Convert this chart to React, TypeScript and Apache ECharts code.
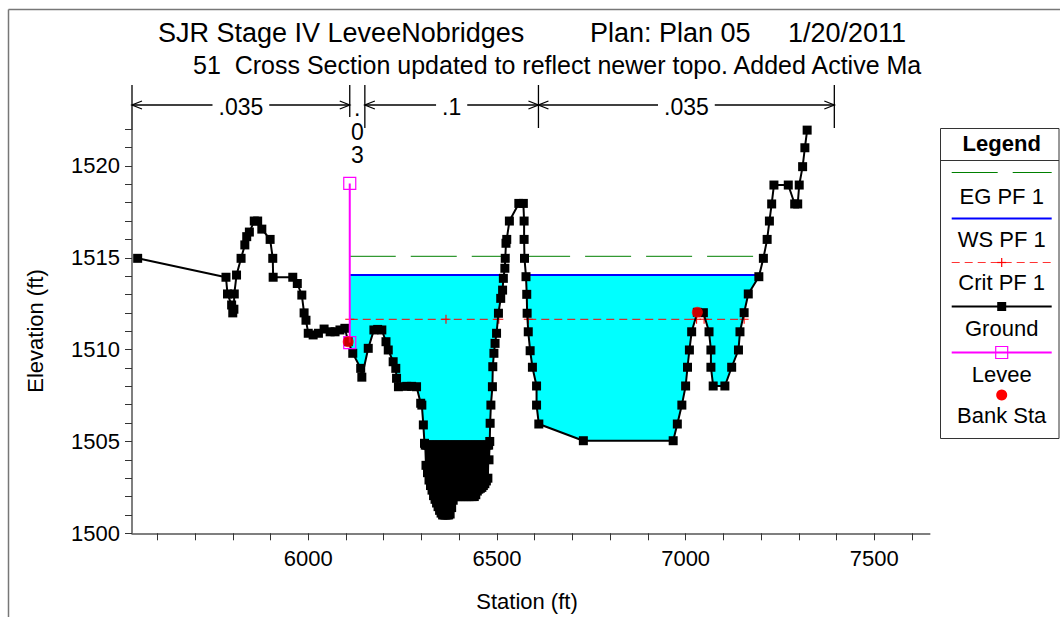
import React, { useEffect, useRef } from "react";
import * as echarts from "echarts";

const FONT = "'Liberation Sans', Arial, Helvetica, sans-serif";

// ---------- text ----------
const titleParts = ["SJR Stage IV LeveeNobridges", "Plan: Plan 05", "1/20/2011"];
const subtitleText = "51  Cross Section updated to reflect newer topo. Added Active Ma";
const xAxisName = "Station (ft)";
const yAxisName = "Elevation (ft)";
const legendTitle = "Legend";
const legendLabels = ["EG PF 1", "WS PF 1", "Crit PF 1", "Ground", "Levee", "Bank Sta"];

// ---------- axes ----------
const xMin = 5533;
const xMax = 7647;
const yMin = 1500;
const yMax = 1522;
const xTickValues = [5600, 5700, 5800, 5900, 6000, 6100, 6200, 6300, 6400, 6500, 6600, 6700, 6800, 6900, 7000, 7100, 7200, 7300, 7400, 7500, 7600];
const xLabelValues = [6000, 6500, 7000, 7500];
const yLabelValues = [1500, 1505, 1510, 1515, 1520];

// ---------- ground (station, elevation) ----------
const groundPoints: [number, number][] = [
  [5548, 1514.97], [5782, 1513.94], [5786, 1513.03], [5797, 1512.43], [5800, 1512.0], [5803, 1512.2],
  [5804, 1513.03], [5810, 1514.06], [5822, 1514.97], [5832, 1515.7], [5837, 1516.15], [5844, 1516.4],
  [5857, 1517.0], [5866, 1517.0], [5877, 1516.56], [5899, 1516.0], [5906, 1514.97], [5907, 1513.94],
  [5959, 1513.94], [5971, 1513.6], [5983, 1512.97], [5989, 1512.0], [5994, 1511.6], [6000, 1510.89],
  [6013, 1510.8], [6027, 1510.89], [6042, 1511.12], [6058, 1510.97], [6071, 1510.97], [6084, 1511.07],
  [6097, 1511.16], [6106, 1510.43], [6118, 1509.8], [6139, 1508.98], [6142, 1508.5], [6159, 1510.07],
  [6174, 1511.07], [6184, 1511.1], [6195, 1511.07], [6206, 1510.43], [6212, 1509.98], [6225, 1509.34],
  [6232, 1508.98], [6234, 1508.44], [6239, 1507.98], [6261, 1508.0], [6274, 1508.0], [6287, 1507.98],
  [6298, 1507.08], [6301, 1506.98], [6305, 1505.9], [6308, 1504.9],
  [6310, 1504.8], [6312, 1503.7], [6314, 1504.8], [6316, 1503.3], [6318, 1504.8], [6320, 1502.9],
  [6322, 1504.8], [6324, 1502.6], [6326, 1504.8], [6328, 1502.35], [6330, 1504.8], [6332, 1502.05],
  [6334, 1504.8], [6336, 1501.85], [6338, 1504.8], [6340, 1501.65], [6342, 1504.8], [6344, 1501.45],
  [6346, 1504.8], [6348, 1501.25], [6350, 1504.8], [6352, 1501.1], [6354, 1504.8], [6356, 1501.0],
  [6358, 1504.8], [6360, 1501.0], [6362, 1504.8], [6364, 1501.0], [6366, 1504.8], [6368, 1501.0],
  [6370, 1504.8], [6372, 1501.0], [6374, 1504.8], [6376, 1501.05], [6378, 1504.8], [6380, 1501.4],
  [6382, 1504.8], [6384, 1501.8], [6386, 1504.8], [6388, 1502.0], [6390, 1504.8], [6392, 1502.0],
  [6394, 1504.8], [6396, 1502.0], [6398, 1504.8], [6400, 1502.0], [6402, 1504.8], [6404, 1502.0],
  [6406, 1504.8], [6408, 1502.0], [6410, 1504.8], [6412, 1502.0], [6414, 1504.8], [6416, 1502.0],
  [6418, 1504.8], [6420, 1502.0], [6422, 1504.8], [6424, 1502.0], [6426, 1504.8], [6428, 1502.0],
  [6430, 1504.8], [6432, 1502.0], [6434, 1504.8], [6436, 1502.0], [6438, 1504.8], [6440, 1502.0],
  [6442, 1504.8], [6444, 1502.1], [6446, 1504.8], [6448, 1502.3], [6450, 1504.8], [6452, 1502.4],
  [6454, 1504.8], [6456, 1502.45], [6458, 1504.8], [6460, 1502.5], [6462, 1504.8], [6464, 1502.6],
  [6466, 1504.8], [6468, 1502.7], [6470, 1504.8], [6472, 1502.85], [6474, 1504.8], [6476, 1503.0],
  [6478, 1504.8], [6479, 1504.0], [6481, 1505.0],
  [6482, 1505.99], [6484, 1506.98], [6488, 1507.98], [6489, 1509.07], [6492, 1509.8], [6495, 1510.34],
  [6499, 1510.89], [6504, 1511.98], [6510, 1512.79], [6515, 1513.24], [6517, 1513.88], [6521, 1514.43],
  [6522, 1514.97], [6524, 1515.79], [6526, 1516.0], [6533, 1517.0], [6558, 1517.96], [6570, 1517.96],
  [6572, 1517.0], [6572, 1516.0], [6573, 1514.97], [6577, 1513.97], [6579, 1513.01], [6580, 1511.98],
  [6583, 1510.97], [6588, 1509.94], [6594, 1509.04], [6605, 1508.02], [6605, 1506.98], [6611, 1505.95],
  [6729, 1505.04], [6967, 1505.04], [6978, 1505.95], [6990, 1506.98], [7000, 1508.02], [7005, 1509.04],
  [7010, 1509.98], [7016, 1510.97], [7031, 1512.03], [7047, 1512.01], [7062, 1510.97], [7067, 1509.98],
  [7067, 1509.04], [7073, 1508.02], [7104, 1508.02], [7122, 1509.04], [7140, 1509.98], [7144, 1510.97],
  [7155, 1512.01], [7166, 1513.03], [7194, 1513.97], [7206, 1514.97], [7216, 1516.0], [7222, 1517.0],
  [7228, 1517.93], [7234, 1518.96], [7272, 1518.96], [7289, 1517.93], [7297, 1517.93], [7301, 1518.96],
  [7310, 1519.96], [7316, 1520.99], [7322, 1521.95],
];

// ---------- profiles ----------
const wsElevation = 1514.06;
const wsStations: (number | null)[] = [6110, 6518, null, 6577, 7194];
const egElevation = 1515.08;
const egStations: (number | null)[] = [6110, 6522, null, 6572, 7194];
const critElevation = 1511.65;
const critStations: (number | null)[] = [6110, 6365, 6505, null, 6583, 7029, null, 7049, 7155];
const wetStart = 6110;
const leveePoints: [number, number][] = [[6110, 1510.38], [6110, 1519.05]];
const bankStations: [number, number][] = [[6106, 1510.43], [7031, 1512.03]];

// ---------- Manning's n ----------
const nBreaks = [5533, 6110, 6150, 6610, 7394];
const nValues = [".035", ".03", ".1", ".035"];

const PLUS = "path://M4.4,0H5.6V4.4H10V5.6H5.6V10H4.4V5.6H0V4.4H4.4Z";

function levelData(stations: (number | null)[], elev: number) {
  return stations.map((s) => (s === null ? ["-", "-"] : [s, elev]));
}

function wetPolygons(ground: [number, number][], ws: number, startSt: number) {
  const polys: number[][][] = [];
  let cur: number[][] | null = null;
  for (let i = 0; i < ground.length - 1; i++) {
    let [x0, y0] = ground[i];
    const [x1, y1] = ground[i + 1];
    if (x1 <= startSt) continue;
    if (x0 < startSt) {
      const t = (startSt - x0) / (x1 - x0);
      y0 = y0 + t * (y1 - y0);
      x0 = startSt;
    }
    const w0 = y0 < ws;
    const w1 = y1 < ws;
    if (w0 && w1) {
      if (!cur) cur = [[x0, ws], [x0, y0]];
      cur.push([x1, y1]);
    } else if (w0 && !w1) {
      const t = (ws - y0) / (y1 - y0);
      const xc = x0 + t * (x1 - x0);
      if (!cur) cur = [[x0, ws], [x0, y0]];
      cur.push([xc, ws]);
      polys.push(cur);
      cur = null;
    } else if (!w0 && w1) {
      const t = (ws - y0) / (y1 - y0);
      const xc = x0 + t * (x1 - x0);
      cur = [[xc, ws], [x1, y1]];
    }
  }
  if (cur) polys.push(cur);
  return polys;
}

export default function App() {
  const ref = useRef<HTMLDivElement>(null);

  useEffect(() => {
    if (!ref.current) return;
    const chart = echarts.init(ref.current, undefined, { renderer: "svg" });
    const polys = wetPolygons(groundPoints, wsElevation, wetStart);

    const option: any = {
      animation: false,
      backgroundColor: "#ffffff",
      grid: { left: 132, right: 130.2, top: 129.2, bottom: 83.7, containLabel: false },
      xAxis: {
        type: "value",
        min: xMin,
        max: xMax,
        axisLine: { show: true, lineStyle: { color: "#555", width: 1.5 } },
        axisTick: { show: true, length: 7, customValues: xTickValues, lineStyle: { color: "#333", width: 1 } },
        axisLabel: {
          customValues: xLabelValues,
          formatter: (v: number) => String(v),
          fontFamily: FONT,
          fontSize: 22,
          lineHeight: 22,
          color: "#000",
          margin: 14,
        },
        splitLine: { show: false },
      },
      yAxis: {
        type: "value",
        min: yMin,
        max: yMax,
        interval: 1,
        axisLine: { show: true, lineStyle: { color: "#555", width: 1.5 } },
        axisTick: { show: true, length: 7, interval: 0, lineStyle: { color: "#333", width: 1 } },
        axisLabel: {
          fontFamily: FONT,
          fontSize: 22,
          color: "#000",
          margin: 12,
          interval: 0,
          formatter: (v: number) => (yLabelValues.indexOf(v) >= 0 ? String(v) : ""),
        },
        splitLine: { show: false },
      },
      series: [
        {
          name: "Water",
          type: "custom",
          coordinateSystem: "cartesian2d",
          data: [[wetStart, wsElevation]],
          z: 1,
          silent: true,
          renderItem: (_params: any, api: any) => ({
            type: "group",
            children: polys.map((poly) => ({
              type: "polygon",
              shape: { points: poly.map((p) => api.coord(p)) },
              style: { fill: "#00FFFF", stroke: "none" },
            })),
          }),
        },
        {
          name: "WS PF 1",
          type: "line",
          data: levelData(wsStations, wsElevation),
          symbol: "none",
          lineStyle: { color: "#0000FF", width: 2 },
          z: 3,
        },
        {
          name: "EG PF 1",
          type: "line",
          data: levelData(egStations, egElevation),
          symbol: "none",
          lineStyle: { color: "#008000", width: 1, type: [46, 15] },
          z: 3,
        },
        {
          name: "Crit PF 1",
          type: "line",
          data: levelData(critStations, critElevation),
          symbol: PLUS,
          symbolSize: 9,
          showAllSymbol: true,
          itemStyle: { color: "#FF0000" },
          lineStyle: { color: "#FF0000", width: 1, type: [8, 5] },
          z: 4,
        },
        {
          name: "Ground",
          type: "line",
          data: groundPoints,
          symbol: "rect",
          symbolSize: 9,
          showAllSymbol: true,
          itemStyle: { color: "#000" },
          lineStyle: { color: "#000", width: 2 },
          z: 5,
        },
        {
          name: "Levee",
          type: "line",
          data: leveePoints,
          symbol: "rect",
          symbolSize: 12,
          showAllSymbol: true,
          itemStyle: { color: "rgba(0,0,0,0)", borderColor: "#FF00FF", borderWidth: 1.2 },
          lineStyle: { color: "#FF00FF", width: 2 },
          z: 6,
        },
        {
          name: "Bank Sta",
          type: "scatter",
          data: bankStations,
          symbol: "circle",
          symbolSize: 11,
          itemStyle: { color: "#FF0000" },
          z: 7,
        },
      ],
    };
    chart.setOption(option);

    const px = (st: number) => (chart.convertToPixel({ gridIndex: 0 }, [st, yMin]) as number[])[0];
    const black = { stroke: "#000", lineWidth: 1.3 };
    const g: any[] = [];

    // frame
    g.push({ type: "line", shape: { x1: 8.5, y1: 9.5, x2: 1060, y2: 9.5 }, style: { stroke: "#777", lineWidth: 1.5 } });
    g.push({ type: "line", shape: { x1: 8.5, y1: 9.5, x2: 8.5, y2: 617 }, style: { stroke: "#777", lineWidth: 1.5 } });

    // titles
    const titleX = [158, 590, 788];
    titleParts.forEach((t, i) =>
      g.push({
        type: "text",
        x: titleX[i],
        y: 33,
        style: { text: t, fontFamily: FONT, fontSize: 27, fill: "#000", align: "left", verticalAlign: "middle" },
      })
    );
    g.push({
      type: "text",
      x: 193,
      y: 65,
      style: { text: subtitleText, fontFamily: FONT, fontSize: 25, fill: "#000", align: "left", verticalAlign: "middle" },
    });

    // axis names
    g.push({
      type: "text",
      x: 527,
      y: 601,
      style: { text: xAxisName, fontFamily: FONT, fontSize: 22, fill: "#000", align: "center", verticalAlign: "middle" },
    });
    g.push({
      type: "text",
      x: 35,
      y: 331,
      rotation: Math.PI / 2,
      style: { text: yAxisName, fontFamily: FONT, fontSize: 22, fill: "#000", align: "center", verticalAlign: "middle" },
    });

    // Manning's n dimension lines
    const dimY = 105;
    const bx = nBreaks.map(px);
    bx.forEach((x, i) => {
      const bottom = i === 0 ? 130 : i === 1 ? 117 : 128;
      g.push({ type: "line", shape: { x1: x, y1: 85, x2: x, y2: bottom }, style: black });
    });
    for (let i = 0; i < nValues.length; i++) {
      const a = bx[i];
      const b = bx[i + 1];
      const mid = (a + b) / 2;
      if (b - a > 40) {
        g.push({ type: "line", shape: { x1: a, y1: dimY, x2: b, y2: dimY }, style: black });
        g.push({ type: "polyline", shape: { points: [[a + 10, dimY - 4], [a, dimY], [a + 10, dimY + 4]] }, style: { ...black, fill: "none" } });
        g.push({ type: "polyline", shape: { points: [[b - 10, dimY - 4], [b, dimY], [b - 10, dimY + 4]] }, style: { ...black, fill: "none" } });
        g.push({
          type: "text",
          x: mid,
          y: 107,
          z: 10,
          style: {
            text: nValues[i],
            fontFamily: FONT,
            fontSize: 23,
            fill: "#000",
            align: "center",
            verticalAlign: "middle",
            backgroundColor: "#fff",
            padding: [0, 6],
          },
        });
      } else {
        nValues[i].split("").forEach((ch, k) =>
          g.push({
            type: "text",
            x: mid,
            y: 108 + k * 23.5,
            style: { text: ch, fontFamily: FONT, fontSize: 23, fill: "#000", align: "center", verticalAlign: "middle" },
          })
        );
      }
    }

    // legend
    const L = 940.5, R = 1059, T = 128.5, B = 438.5, cx = 1001.7, s1 = 951.7, s2 = 1051.7;
    g.push({ type: "rect", shape: { x: L, y: T, width: R - L, height: B - T }, style: { stroke: "#333", lineWidth: 1, fill: "#fff" } });
    g.push({ type: "line", shape: { x1: L, y1: 160.5, x2: R, y2: 160.5 }, style: { stroke: "#333", lineWidth: 1 } });
    g.push({
      type: "text",
      x: cx,
      y: 143.5,
      style: { text: legendTitle, fontFamily: FONT, fontSize: 22, fontWeight: "bold", fill: "#000", align: "center", verticalAlign: "middle" },
    });
    const labelY = [196, 239, 282.3, 328.3, 374, 415];
    legendLabels.forEach((t, i) =>
      g.push({
        type: "text",
        x: cx,
        y: labelY[i],
        style: { text: t, fontFamily: FONT, fontSize: 22, fill: "#000", align: "center", verticalAlign: "middle" },
      })
    );
    g.push({ type: "line", shape: { x1: s1, y1: 172.5, x2: s2, y2: 172.5 }, style: { stroke: "#008000", lineWidth: 1, lineDash: [46, 15] } });
    g.push({ type: "line", shape: { x1: s1, y1: 218.5, x2: s2, y2: 218.5 }, style: { stroke: "#0000FF", lineWidth: 2 } });
    g.push({ type: "line", shape: { x1: s1, y1: 262.5, x2: s2, y2: 262.5 }, style: { stroke: "#FF3333", lineWidth: 1, lineDash: [8, 5] } });
    g.push({ type: "line", shape: { x1: cx - 4.5, y1: 262.5, x2: cx + 4.5, y2: 262.5 }, style: { stroke: "#FF0000", lineWidth: 1.2 } });
    g.push({ type: "line", shape: { x1: cx, y1: 258, x2: cx, y2: 267 }, style: { stroke: "#FF0000", lineWidth: 1.2 } });
    g.push({ type: "line", shape: { x1: s1, y1: 306.5, x2: s2, y2: 306.5 }, style: { stroke: "#000", lineWidth: 2 } });
    g.push({ type: "rect", shape: { x: cx - 4.5, y: 302, width: 9, height: 9 }, style: { fill: "#000" } });
    g.push({ type: "line", shape: { x1: s1, y1: 352.5, x2: s2, y2: 352.5 }, style: { stroke: "#FF00FF", lineWidth: 2 } });
    g.push({ type: "rect", shape: { x: cx - 6, y: 346.5, width: 12, height: 12 }, style: { stroke: "#FF00FF", lineWidth: 1.2, fill: "none" } });
    g.push({ type: "circle", shape: { cx: cx, cy: 395, r: 5.5 }, style: { fill: "#FF0000" } });

    chart.setOption({ graphic: { elements: g } });

    return () => chart.dispose();
  }, []);

  return (
    <div
      ref={ref}
      style={{ position: "fixed", left: 0, top: 0, width: 1060, height: 617, background: "#fff" }}
    />
  );
}
